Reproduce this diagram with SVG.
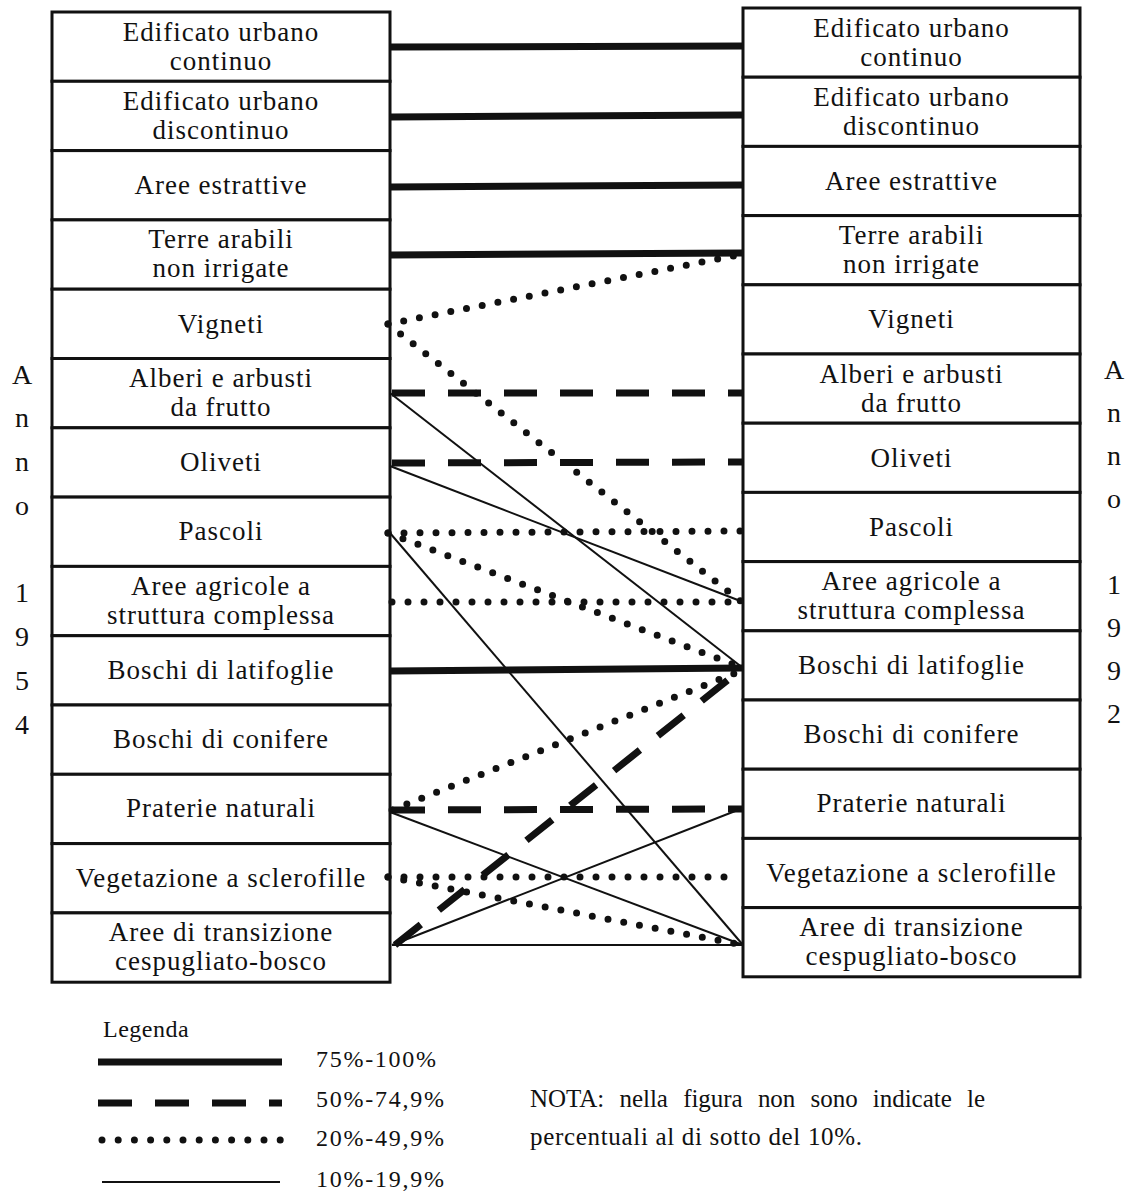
<svg xmlns="http://www.w3.org/2000/svg" width="1129" height="1191" viewBox="0 0 1129 1191">
<style>
  text { font-family: "Liberation Serif", "Times New Roman", serif; fill: #111; }
  .lbl { font-size: 27px; letter-spacing: 1px; text-anchor: middle; }
  .ax { font-size: 28px; text-anchor: middle; }
  .box { fill: #fff; stroke: #111; stroke-width: 3; }
  .thick { stroke: #111; stroke-width: 7; fill: none; }
  .dash { stroke: #111; stroke-width: 7; fill: none; stroke-dasharray: 33 23; }
  .dot { stroke: #111; stroke-width: 7; fill: none; stroke-dasharray: 0 16; stroke-linecap: round; }
  .thin { stroke: #111; stroke-width: 2; fill: none; }
  .leg { font-size: 24px; }
  .note { font-size: 25px; }
</style>
<rect width="1129" height="1191" fill="#fff"/>

<!-- Left column (1954) -->
<g id="L0"><rect class="box" x="52" y="12" width="338" height="69.3"/><text class="lbl" x="221" y="41">Edificato urbano</text><text class="lbl" x="221" y="70">continuo</text></g>
<g id="L1"><rect class="box" x="52" y="81.3" width="338" height="69.3"/><text class="lbl" x="221" y="110">Edificato urbano</text><text class="lbl" x="221" y="139">discontinuo</text></g>
<g id="L2"><rect class="box" x="52" y="150.6" width="338" height="69.3"/><text class="lbl" x="221" y="194">Aree estrattive</text></g>
<g id="L3"><rect class="box" x="52" y="219.9" width="338" height="69.3"/><text class="lbl" x="221" y="248">Terre arabili</text><text class="lbl" x="221" y="277">non irrigate</text></g>
<g id="L4"><rect class="box" x="52" y="289.2" width="338" height="69.3"/><text class="lbl" x="221" y="333">Vigneti</text></g>
<g id="L5"><rect class="box" x="52" y="358.5" width="338" height="69.3"/><text class="lbl" x="221" y="387">Alberi e arbusti</text><text class="lbl" x="221" y="416">da frutto</text></g>
<g id="L6"><rect class="box" x="52" y="427.8" width="338" height="69.3"/><text class="lbl" x="221" y="471">Oliveti</text></g>
<g id="L7"><rect class="box" x="52" y="497.1" width="338" height="69.3"/><text class="lbl" x="221" y="540">Pascoli</text></g>
<g id="L8"><rect class="box" x="52" y="566.4" width="338" height="69.3"/><text class="lbl" x="221" y="595">Aree agricole a</text><text class="lbl" x="221" y="624">struttura complessa</text></g>
<g id="L9"><rect class="box" x="52" y="635.7" width="338" height="69.3"/><text class="lbl" x="221" y="679">Boschi di latifoglie</text></g>
<g id="L10"><rect class="box" x="52" y="705" width="338" height="69.3"/><text class="lbl" x="221" y="748">Boschi di conifere</text></g>
<g id="L11"><rect class="box" x="52" y="774.3" width="338" height="69.3"/><text class="lbl" x="221" y="817">Praterie naturali</text></g>
<g id="L12"><rect class="box" x="52" y="843.6" width="338" height="69.3"/><text class="lbl" x="221" y="887">Vegetazione a sclerofille</text></g>
<g id="L13"><rect class="box" x="52" y="912.9" width="338" height="69.3"/><text class="lbl" x="221" y="941">Aree di transizione</text><text class="lbl" x="221" y="970">cespugliato-bosco</text></g>

<!-- Right column (1992) -->
<g id="R0"><rect class="box" x="743" y="8" width="337" height="69.2"/><text class="lbl" x="911.5" y="37">Edificato urbano</text><text class="lbl" x="911.5" y="66">continuo</text></g>
<g id="R1"><rect class="box" x="743" y="77.2" width="337" height="69.2"/><text class="lbl" x="911.5" y="106">Edificato urbano</text><text class="lbl" x="911.5" y="135">discontinuo</text></g>
<g id="R2"><rect class="box" x="743" y="146.4" width="337" height="69.2"/><text class="lbl" x="911.5" y="190">Aree estrattive</text></g>
<g id="R3"><rect class="box" x="743" y="215.6" width="337" height="69.2"/><text class="lbl" x="911.5" y="244">Terre arabili</text><text class="lbl" x="911.5" y="273">non irrigate</text></g>
<g id="R4"><rect class="box" x="743" y="284.8" width="337" height="69.2"/><text class="lbl" x="911.5" y="328">Vigneti</text></g>
<g id="R5"><rect class="box" x="743" y="354" width="337" height="69.2"/><text class="lbl" x="911.5" y="383">Alberi e arbusti</text><text class="lbl" x="911.5" y="412">da frutto</text></g>
<g id="R6"><rect class="box" x="743" y="423.2" width="337" height="69.2"/><text class="lbl" x="911.5" y="467">Oliveti</text></g>
<g id="R7"><rect class="box" x="743" y="492.4" width="337" height="69.2"/><text class="lbl" x="911.5" y="536">Pascoli</text></g>
<g id="R8"><rect class="box" x="743" y="561.6" width="337" height="69.2"/><text class="lbl" x="911.5" y="590">Aree agricole a</text><text class="lbl" x="911.5" y="619">struttura complessa</text></g>
<g id="R9"><rect class="box" x="743" y="630.8" width="337" height="69.2"/><text class="lbl" x="911.5" y="674">Boschi di latifoglie</text></g>
<g id="R10"><rect class="box" x="743" y="700" width="337" height="69.2"/><text class="lbl" x="911.5" y="743">Boschi di conifere</text></g>
<g id="R11"><rect class="box" x="743" y="769.2" width="337" height="69.2"/><text class="lbl" x="911.5" y="812">Praterie naturali</text></g>
<g id="R12"><rect class="box" x="743" y="838.4" width="337" height="69.2"/><text class="lbl" x="911.5" y="882">Vegetazione a sclerofille</text></g>
<g id="R13"><rect class="box" x="743" y="907.6" width="337" height="69.2"/><text class="lbl" x="911.5" y="936">Aree di transizione</text><text class="lbl" x="911.5" y="965">cespugliato-bosco</text></g>

<!-- Connectors -->
<g id="connectors">
  <line class="thick" x1="391" y1="47" x2="743" y2="46"/>
  <line class="thick" x1="391" y1="117" x2="743" y2="115"/>
  <line class="thick" x1="391" y1="187" x2="743" y2="185"/>
  <line class="thick" x1="391" y1="255" x2="743" y2="253"/>
  <line class="dot" x1="388" y1="324" x2="743" y2="254"/>
  <line class="dot" x1="388" y1="324" x2="743" y2="603"/>
  <line class="dash" x1="392" y1="393" x2="743" y2="393"/>
  <line class="thin" x1="390" y1="393" x2="743" y2="668"/>
  <line class="dash" x1="392" y1="463" x2="743" y2="462"/>
  <line class="thin" x1="390" y1="466" x2="743" y2="602"/>
  <line class="dot" x1="388" y1="533" x2="743" y2="531"/>
  <line class="dot" x1="388" y1="533" x2="743" y2="668"/>
  <line class="thin" x1="390" y1="533" x2="743" y2="945"/>
  <line class="dot" x1="392" y1="602" x2="743" y2="602"/>
  <line class="thick" x1="391" y1="671" x2="743" y2="668"/>
  <line class="dot" x1="392" y1="810" x2="743" y2="670"/>
  <line class="dash" x1="392" y1="810" x2="743" y2="809"/>
  <line class="thin" x1="390" y1="812" x2="743" y2="945"/>
  <line class="dot" x1="388" y1="877" x2="730" y2="877"/>
  <line class="dot" x1="388" y1="877" x2="743" y2="945"/>
  <line class="dash" x1="395" y1="945" x2="743" y2="668"/>
  <line class="thin" x1="392" y1="945" x2="743" y2="808"/>
  <line class="thin" x1="392" y1="945" x2="743" y2="945"/>
</g>

<!-- Axis labels -->
<g id="axis-left">
  <text class="ax" x="22" y="384">A</text>
  <text class="ax" x="22" y="427">n</text>
  <text class="ax" x="22" y="471">n</text>
  <text class="ax" x="22" y="515">o</text>
  <text class="ax" x="22" y="602">1</text>
  <text class="ax" x="22" y="646">9</text>
  <text class="ax" x="22" y="690">5</text>
  <text class="ax" x="22" y="734">4</text>
</g>
<g id="axis-right">
  <text class="ax" x="1114" y="379">A</text>
  <text class="ax" x="1114" y="422">n</text>
  <text class="ax" x="1114" y="465">n</text>
  <text class="ax" x="1114" y="508">o</text>
  <text class="ax" x="1114" y="594">1</text>
  <text class="ax" x="1114" y="637">9</text>
  <text class="ax" x="1114" y="680">9</text>
  <text class="ax" x="1114" y="723">2</text>
</g>

<!-- Legend -->
<g id="legend">
  <text x="103" y="1037" style="font-size:24px;letter-spacing:0.5px">Legenda</text>
  <line class="thick" x1="98" y1="1062" x2="282" y2="1062"/>
  <line class="dash" x1="98" y1="1103" x2="282" y2="1103" style="stroke-dasharray:34 23"/>
  <line class="dot" x1="102" y1="1140" x2="281" y2="1140" style="stroke-dasharray:0 16.2"/>
  <line class="thin" x1="102" y1="1182" x2="280" y2="1182"/>
  <text class="leg" x="316" y="1067" textLength="120" lengthAdjust="spacing">75%-100%</text>
  <text class="leg" x="316" y="1107" textLength="128" lengthAdjust="spacing">50%-74,9%</text>
  <text class="leg" x="316" y="1146" textLength="128" lengthAdjust="spacing">20%-49,9%</text>
  <text class="leg" x="316" y="1187" textLength="128" lengthAdjust="spacing">10%-19,9%</text>
</g>

<!-- Note -->
<g id="note">
  <text class="note" x="530" y="1107" style="word-spacing:9px" textLength="455" lengthAdjust="spacing">NOTA: nella figura non sono indicate le</text>
  <text class="note" x="530" y="1145" textLength="332" lengthAdjust="spacing">percentuali al di sotto del 10%.</text>
</g>
</svg>
